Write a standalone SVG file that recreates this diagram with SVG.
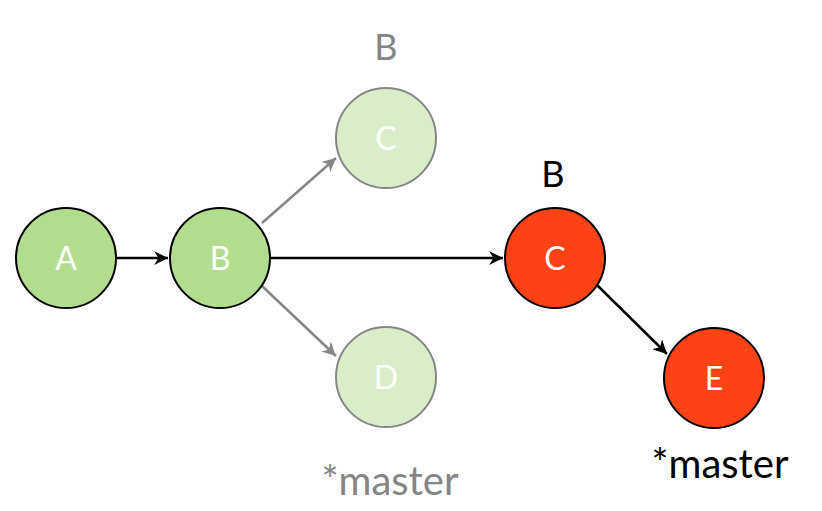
<svg xmlns="http://www.w3.org/2000/svg" width="822" height="511" viewBox="0 0 822 511">
<style>
.n{stroke:#000;stroke-width:2}
.g{fill:#b3dd8e}
.gh{fill:#d9eec8;stroke:#868686;stroke-width:2}
.r{fill:#fd4216}
.t{font-family:"Lato","Open Sans",sans-serif;font-size:32px;fill:#fff;text-anchor:middle}
.lbl{font-family:"Lato","Open Sans",sans-serif;font-size:36px;text-anchor:middle}
.m{font-size:40px}
.c{stroke:#000;stroke-width:2.5;fill:none}
.cg{stroke:#868686;stroke-width:2.5;fill:none}
</style>
<defs>
<marker id="ab" viewBox="0 0 10 10" refX="10" refY="5" markerWidth="5.5" markerHeight="5.5" orient="auto" markerUnits="strokeWidth"><path d="M0,0 L10,5 L0,10 L3,5 z" fill="#000"/></marker>
<marker id="ag" viewBox="0 0 10 10" refX="10" refY="5" markerWidth="5.5" markerHeight="5.5" orient="auto" markerUnits="strokeWidth"><path d="M0,0 L10,5 L0,10 L3,5 z" fill="#868686"/></marker>
</defs>
<rect width="822" height="511" fill="#fff"/>
<g id="connectors">
<line class="c" x1="117" y1="258" x2="168" y2="258" marker-end="url(#ab)"/>
<line class="c" x1="271" y1="258" x2="503" y2="258" marker-end="url(#ab)"/>
<line class="cg" x1="262" y1="223" x2="336" y2="158" marker-end="url(#ag)"/>
<line class="cg" x1="262" y1="286" x2="336" y2="356" marker-end="url(#ag)"/>
<line class="c" x1="597" y1="285" x2="667" y2="354" marker-end="url(#ab)"/>
</g>
<g id="nodeA"><circle class="n g" cx="66" cy="258" r="50"/><text class="t" x="66" y="270">A</text></g>
<g id="nodeB"><circle class="n g" cx="220" cy="258" r="50"/><text class="t" x="220" y="270">B</text></g>
<g id="ghostC"><circle class="gh" cx="386" cy="138" r="50"/><text class="t" x="386" y="150">C</text></g>
<g id="ghostD"><circle class="gh" cx="386" cy="377" r="50"/><text class="t" x="386" y="389">D</text></g>
<g id="nodeC"><circle class="n r" cx="555" cy="258" r="50"/><text class="t" x="555" y="270">C</text></g>
<g id="nodeE"><circle class="n r" cx="714" cy="378" r="50"/><text class="t" x="714" y="390">E</text></g>
<g id="labels">
<text class="lbl" x="386" y="60" fill="#858585">B</text>
<text class="lbl" x="553" y="187" fill="#000">B</text>
<text class="lbl m" x="390" y="495" fill="#858585">*master</text>
<text class="lbl m" x="720" y="478" fill="#000">*master</text>
</g>
</svg>
